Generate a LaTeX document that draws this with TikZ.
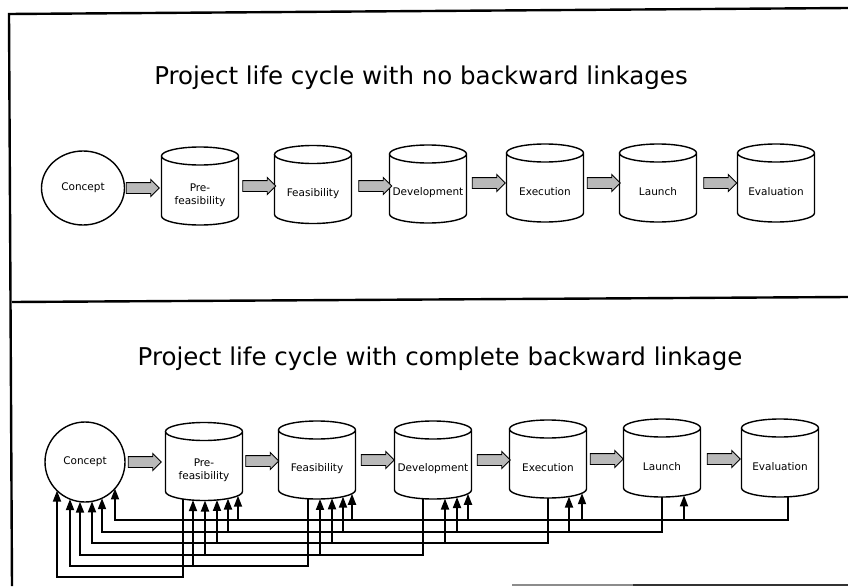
\documentclass[tikz,border=0pt]{standalone}
\usepackage{fontspec}
\setmainfont{DejaVu Sans}
\usetikzlibrary{shapes.geometric,shapes.arrows,arrows.meta}

\begin{document}
\begin{tikzpicture}[x=1pt,y=-1pt,
  stage/.style={rectangle, minimum width=77pt, minimum height=60pt, inner sep=0pt,
    outer sep=0pt, align=center, font=\fontsize{10.5}{13}\selectfont},
  start/.style={ellipse, draw, line width=1.4pt, inner sep=0pt, outer sep=0pt,
    font=\fontsize{10.5}{13}\selectfont},
  drumline/.style={line width=1.4pt},
  blockarrow/.style={single arrow, draw, line width=0.9pt, fill=gray!55,
    minimum height=33pt, text height=5pt, text depth=5pt, text width=0pt,
    single arrow head extend=3pt, single arrow head indent=0pt,
    inner sep=0pt, outer sep=0pt},
  link/.style={line width=1.8pt, -{Triangle[length=11pt,width=8pt]}},
  frame/.style={line width=2.4pt},
  title/.style={anchor=base, font=\fontsize{24.5}{29}\selectfont}]

\fill[white] (0,0) rectangle (848,586);
\useasboundingbox (0,0) rectangle (848,586);

% outer frame and divider between the two panels
\draw[frame] (848,8) -- (9,14) -- (12,586);
\draw[frame] (12,302) -- (848,297);
\draw[line width=1.6pt, black!45] (512,585) -- (633,585);
\draw[line width=1.6pt, black!80] (633,585) -- (848,585);

% titles
\node[title] (t1) at (421,84) {Project life cycle with no backward linkages};
\node[title] (t2) at (440,365) {Project life cycle with complete backward linkage};

% upper panel: stages in a row
\node[start, minimum width=83pt, minimum height=74pt] (c1) at (83,188) {Concept};
\node[stage] (p1) at (200,195)   {Pre-\\feasibility};
\node[stage] (f1) at (313,193.5) {Feasibility};
\node[stage] (d1) at (428,193)   {Development};
\node[stage] (e1) at (545,192)   {Execution};
\node[stage] (l1) at (658,192)   {Launch};
\node[stage] (v1) at (776,192)   {Evaluation};

% lower panel: same stages
\node[start, minimum size=80pt] (c2) at (85,462) {Concept};
\node[stage] (p2) at (204,470.5) {Pre-\\feasibility};
\node[stage] (f2) at (317,469)   {Feasibility};
\node[stage] (d2) at (433,469)   {Development};
\node[stage] (e2) at (548,468)   {Execution};
\node[stage] (l2) at (662,467)   {Launch};
\node[stage] (v2) at (780,467)   {Evaluation};

% drum outlines around the stage nodes
\foreach \n in {p1,f1,d1,e1,l1,v1,p2,f2,d2,e2,l2,v2}{
  \draw[drumline] ([yshift=9pt]\n.north west) -- ([yshift=9pt]\n.south west)
    arc[start angle=180, end angle=360, x radius=38.5pt, y radius=9pt]
    -- ([yshift=9pt]\n.north east)
    arc[start angle=0, end angle=360, x radius=38.5pt, y radius=9pt];
}

% forward block arrows
\node[blockarrow] (a1) at (140,188)   {};
\node[blockarrow] (a2) at (256.5,186) {};
\node[blockarrow] (a3) at (372.5,186) {};
\node[blockarrow] (a4) at (486,183)   {};
\node[blockarrow] (a5) at (601,183)   {};
\node[blockarrow] (a6) at (717.5,183) {};
\node[blockarrow] (b1) at (142,462)   {};
\node[blockarrow] (b2) at (259.5,461) {};
\node[blockarrow] (b3) at (375,460)   {};
\node[blockarrow] (b4) at (491,460)   {};
\node[blockarrow] (b5) at (604,459)   {};
\node[blockarrow] (b6) at (721,459)   {};

% backward linkages: source / drop offset / level / target / tip offset / target radii
\foreach \s/\sd/\lv/\t/\td/\R/\ry in {
  v2/8/520/l2/22/38.5/9, v2/8/520/e2/34/38.5/9, v2/8/520/d2/35/38.5/9,
  v2/8/520/f2/35/38.5/9, v2/8/520/p2/34/38.5/9, v2/8/520/c2/30/40/40,
  l2/0/532/e2/21/38.5/9, l2/0/532/d2/24/38.5/9, l2/0/532/f2/26/38.5/9,
  l2/0/532/p2/24/38.5/9, l2/0/532/c2/17/40/40,
  e2/0/543/d2/12/38.5/9, e2/0/543/f2/15/38.5/9, e2/0/543/p2/13/38.5/9,
  e2/0/543/c2/7/40/40,
  d2/-10/555/f2/3/38.5/9, d2/-10/555/p2/1/38.5/9, d2/-10/555/c2/-5/40/40,
  f2/-9/566/p2/-11/38.5/9, f2/-9/566/c2/-15/40/40,
  p2/-21/577/c2/-28/40/40}{
  \pgfmathsetmacro\sy{9*(1-sqrt(1-(\sd/38.5)*(\sd/38.5)))}
  \pgfmathsetmacro\ty{\ry*(1-sqrt(1-(\td/\R)*(\td/\R)))}
  \coordinate (st) at ([xshift=\sd pt, yshift=\sy pt]\s.south);
  \coordinate (tip) at ([xshift=\td pt, yshift=\ty pt]\t.south);
  \coordinate (lvl) at (0,\lv);
  \draw[link] (st) |- (tip |- lvl) -- (tip);
}
\end{tikzpicture}
\end{document}
